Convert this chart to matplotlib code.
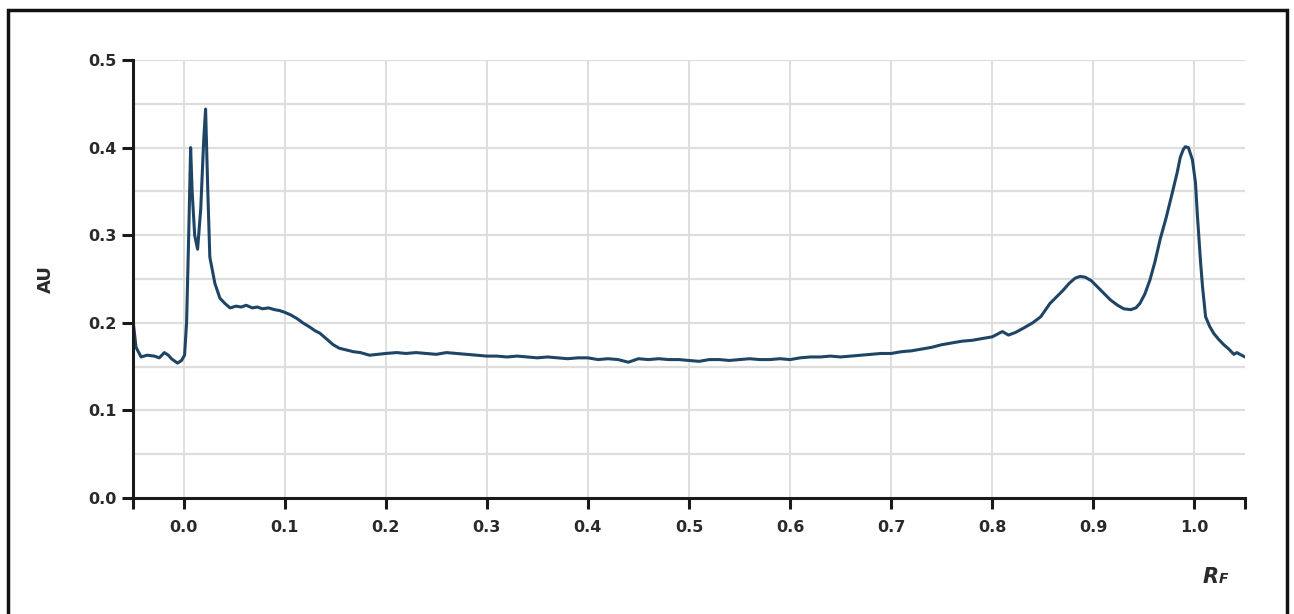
import matplotlib
matplotlib.use("Agg")
import matplotlib.pyplot as plt
from matplotlib.patches import Rectangle
from matplotlib.ticker import MultipleLocator, FixedLocator

# densitogram trace
rf = [-0.05, -0.047, -0.042, -0.036, -0.029, -0.024, -0.019, -0.015, -0.012,
      -0.006, -0.002, 0.001, 0.003, 0.005, 0.007, 0.0085, 0.011, 0.0139,
      0.017, 0.020, 0.0218, 0.024, 0.026, 0.031, 0.036, 0.041, 0.046, 0.052,
      0.057, 0.062, 0.068, 0.073, 0.078, 0.084, 0.090, 0.095, 0.100, 0.106,
      0.112, 0.118, 0.125, 0.130, 0.135, 0.141, 0.148, 0.154, 0.161, 0.168,
      0.175, 0.184, 0.192, 0.200, 0.211,
      0.22, 0.23, 0.24, 0.25, 0.26, 0.27, 0.28, 0.29, 0.30, 0.31, 0.32, 0.33,
      0.34, 0.35, 0.36, 0.37, 0.38, 0.39, 0.40, 0.41, 0.42, 0.43, 0.44, 0.45,
      0.46, 0.47, 0.48, 0.49, 0.50, 0.51, 0.52, 0.53, 0.54, 0.55, 0.56, 0.57,
      0.58, 0.59, 0.60, 0.61, 0.62, 0.63, 0.64, 0.65, 0.66, 0.67, 0.68, 0.69,
      0.70, 0.71, 0.72, 0.73, 0.74, 0.75, 0.76, 0.77, 0.78, 0.79, 0.80,
      0.81, 0.816, 0.823, 0.831, 0.840, 0.848, 0.857, 0.864, 0.870, 0.876,
      0.882, 0.887, 0.892, 0.898, 0.904, 0.910, 0.917, 0.924, 0.930, 0.937,
      0.942, 0.946, 0.951, 0.956, 0.961, 0.966, 0.972, 0.978, 0.983, 0.986,
      0.989, 0.991, 0.994, 0.998, 1.001, 1.003, 1.006, 1.008, 1.011, 1.015,
      1.019, 1.024, 1.029, 1.034, 1.039, 1.042, 1.045, 1.05]
au = [0.203, 0.172, 0.161, 0.163, 0.162, 0.160, 0.166, 0.163, 0.159,
      0.154, 0.157, 0.163, 0.200, 0.295, 0.400, 0.350, 0.300, 0.284,
      0.330, 0.410, 0.444, 0.350, 0.275, 0.245, 0.228, 0.222, 0.217, 0.219,
      0.218, 0.220, 0.217, 0.218, 0.216, 0.217, 0.215, 0.214, 0.212, 0.209,
      0.205, 0.200, 0.195, 0.191, 0.188, 0.182, 0.175, 0.171, 0.169, 0.167,
      0.166, 0.163, 0.164, 0.165, 0.166,
      0.165, 0.166, 0.165, 0.164, 0.166, 0.165, 0.164, 0.163, 0.162, 0.162,
      0.161, 0.162, 0.161, 0.160, 0.161, 0.160, 0.159, 0.160, 0.160, 0.158,
      0.159, 0.158, 0.155, 0.159, 0.158, 0.159, 0.158, 0.158, 0.157, 0.156,
      0.158, 0.158, 0.157, 0.158, 0.159, 0.158, 0.158, 0.159, 0.158, 0.160,
      0.161, 0.161, 0.162, 0.161, 0.162, 0.163, 0.164, 0.165, 0.165, 0.167,
      0.168, 0.170, 0.172, 0.175, 0.177, 0.179, 0.180, 0.182, 0.184,
      0.190, 0.186, 0.189, 0.194, 0.200, 0.207, 0.222, 0.230, 0.237, 0.245,
      0.251, 0.253, 0.252, 0.248, 0.241, 0.234, 0.226, 0.220, 0.216, 0.215,
      0.217, 0.222, 0.233, 0.249, 0.270, 0.295, 0.320, 0.348, 0.372, 0.389,
      0.398, 0.401, 0.400, 0.386, 0.360, 0.321, 0.270, 0.241, 0.207, 0.196,
      0.188, 0.181, 0.175, 0.170, 0.164, 0.166, 0.164, 0.161]

x_ticks = [0.0, 0.1, 0.2, 0.3, 0.4, 0.5, 0.6, 0.7, 0.8, 0.9, 1.0]
x_labels = ["0.0", "0.1", "0.2", "0.3", "0.4", "0.5", "0.6", "0.7", "0.8", "0.9", "1.0"]
y_ticks = [0.0, 0.1, 0.2, 0.3, 0.4, 0.5]
y_labels = ["0.0", "0.1", "0.2", "0.3", "0.4", "0.5"]

W, H = 1294, 614
fig = plt.figure(figsize=(W / 100, H / 100), dpi=100)
ax = fig.add_axes([133 / W, 1 - 498 / H, (1245 - 133) / W, (498 - 60) / H])

# frame round the whole picture
fig.patches.append(Rectangle((8 / W, -0.05), (1287 - 8) / W, 1.05 - 10 / H,
                             transform=fig.transFigure, fill=False,
                             edgecolor="#111111", linewidth=2.5))

ax.plot(rf, au, color="#1f4566", linewidth=2.2, solid_joinstyle="round")

ax.set_xlim(-0.05, 1.05)
ax.set_ylim(0.0, 0.5)

ax.set_xticks(x_ticks)
ax.set_xticklabels(x_labels)
ax.xaxis.set_minor_locator(FixedLocator([-0.05, 1.05]))
ax.set_yticks(y_ticks)
ax.set_yticklabels(y_labels)
ax.yaxis.set_minor_locator(MultipleLocator(0.05))

# grid: vertical at labelled ticks, horizontal every 0.05
for xv in x_ticks:
    ax.axvline(xv, color="#dcdcdc", linewidth=1.3, zorder=0)
for k in range(1, 11):
    ax.axhline(k * 0.05, color="#dedede", linewidth=1.6, zorder=0)

for s in ["top", "right"]:
    ax.spines[s].set_visible(False)
for s in ["left", "bottom"]:
    ax.spines[s].set_linewidth(2.2)
    ax.spines[s].set_color("#1a1a1a")

ax.tick_params(axis="both", which="major", length=8, width=2.2, color="#1a1a1a",
               labelsize=11.5, labelcolor="#2a2a2a")
ax.tick_params(axis="x", which="minor", length=8, width=2.2, color="#1a1a1a")
ax.tick_params(axis="y", which="minor", length=0)
ax.tick_params(axis="x", pad=8)
ax.tick_params(axis="y", pad=4)
for lab in ax.get_xticklabels() + ax.get_yticklabels():
    lab.set_fontweight("bold")

ax.set_ylabel("AU", fontsize=13, fontweight="bold", color="#2a2a2a", labelpad=24)

fig.text(1211 / W, 1 - 577 / H, "R", fontsize=15, fontweight="bold",
         fontstyle="italic", color="#2a2a2a", ha="center", va="center")
fig.text(1223 / W, 1 - 579 / H, "F", fontsize=10, fontweight="bold",
         fontstyle="italic", color="#2a2a2a", ha="center", va="center")

fig.savefig("out.png", dpi=100, facecolor="white")
